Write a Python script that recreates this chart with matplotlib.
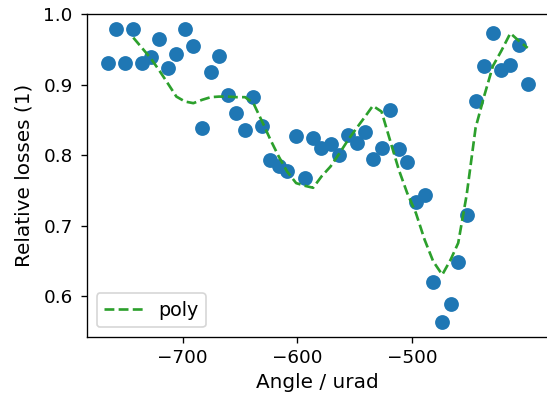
import numpy as np
import matplotlib
matplotlib.use("Agg")
import matplotlib.pyplot as plt

# measured angles (urad) and relative losses
angle = [-765.2, -757.9, -750.4, -743.1, -735.2, -727.9, -720.3, -713.1, -705.5, -698.0,
         -690.7, -683.1, -675.5, -668.3, -660.7, -653.1, -645.6, -638.3, -630.7, -623.4,
         -616.2, -608.9, -601.0, -593.4, -586.2, -578.9, -571.0, -563.5, -555.6, -548.3,
         -540.8, -534.1, -526.5, -519.2, -511.4, -504.1, -496.5, -488.9, -481.4, -473.5,
         -466.2, -459.6, -452.2, -444.4, -436.9, -429.3, -422.0, -414.1, -406.6, -399.0]

losses = [0.9311, 0.9788, 0.9311, 0.9788, 0.9311, 0.9396, 0.9642, 0.9232, 0.9430, 0.9788,
          0.9547, 0.8392, 0.9180, 0.9410, 0.8854, 0.8604, 0.8359, 0.8830, 0.8416, 0.7931,
          0.7850, 0.7779, 0.8274, 0.7676, 0.8250, 0.8100, 0.8157, 0.7996, 0.8289, 0.8171,
          0.8335, 0.7949, 0.8109, 0.8642, 0.8086, 0.7897, 0.7331, 0.7440, 0.6209, 0.5634,
          0.5894, 0.6482, 0.7147, 0.8774, 0.9260, 0.9736, 0.9204, 0.9274, 0.9562, 0.9014]

# smoothed polynomial curve, evaluated from the 4th point on
poly_fit = [0.9665, 0.9513, 0.9373, 0.9197, 0.9020, 0.8830, 0.8760, 0.8737, 0.8784, 0.8822,
            0.8830, 0.8830, 0.8822, 0.8822, 0.8737, 0.8477, 0.8218, 0.7982, 0.7769, 0.7605,
            0.7567, 0.7539, 0.7699, 0.7840, 0.8020, 0.8218, 0.8383, 0.8547, 0.8699, 0.8618,
            0.8218, 0.7793, 0.7464, 0.7181, 0.6803, 0.6496, 0.6308, 0.6521, 0.6757, 0.7440,
            0.8390, 0.8840, 0.9264, 0.9477, 0.9727, 0.9618, 0.9519]

x_ticks = [-700, -600, -500]
y_ticks = [0.6, 0.7, 0.8, 0.9, 1.0]

dpi = 120
fig = plt.figure(figsize=(547 / dpi, 398 / dpi), dpi=dpi)
ax = fig.add_axes([0.159, 0.1533, 0.844, 0.8116])

ax.scatter(angle, losses, s=62, color="C0")
ax.plot(angle[3:], poly_fit, "--", color="C2", lw=1.6, label="poly")

ax.set_xticks(x_ticks)
ax.set_yticks(y_ticks)
ax.set_ylim(0.5426, 1.0)
ax.tick_params(labelsize=11)
ax.tick_params(axis="y", pad=5)
ax.set_xlabel("Angle / urad", fontsize=12)
ax.set_ylabel("Relative losses (1)", fontsize=12, labelpad=6)
ax.legend(loc="lower left", fontsize=11.5)

fig.savefig("out.png", dpi=dpi)
